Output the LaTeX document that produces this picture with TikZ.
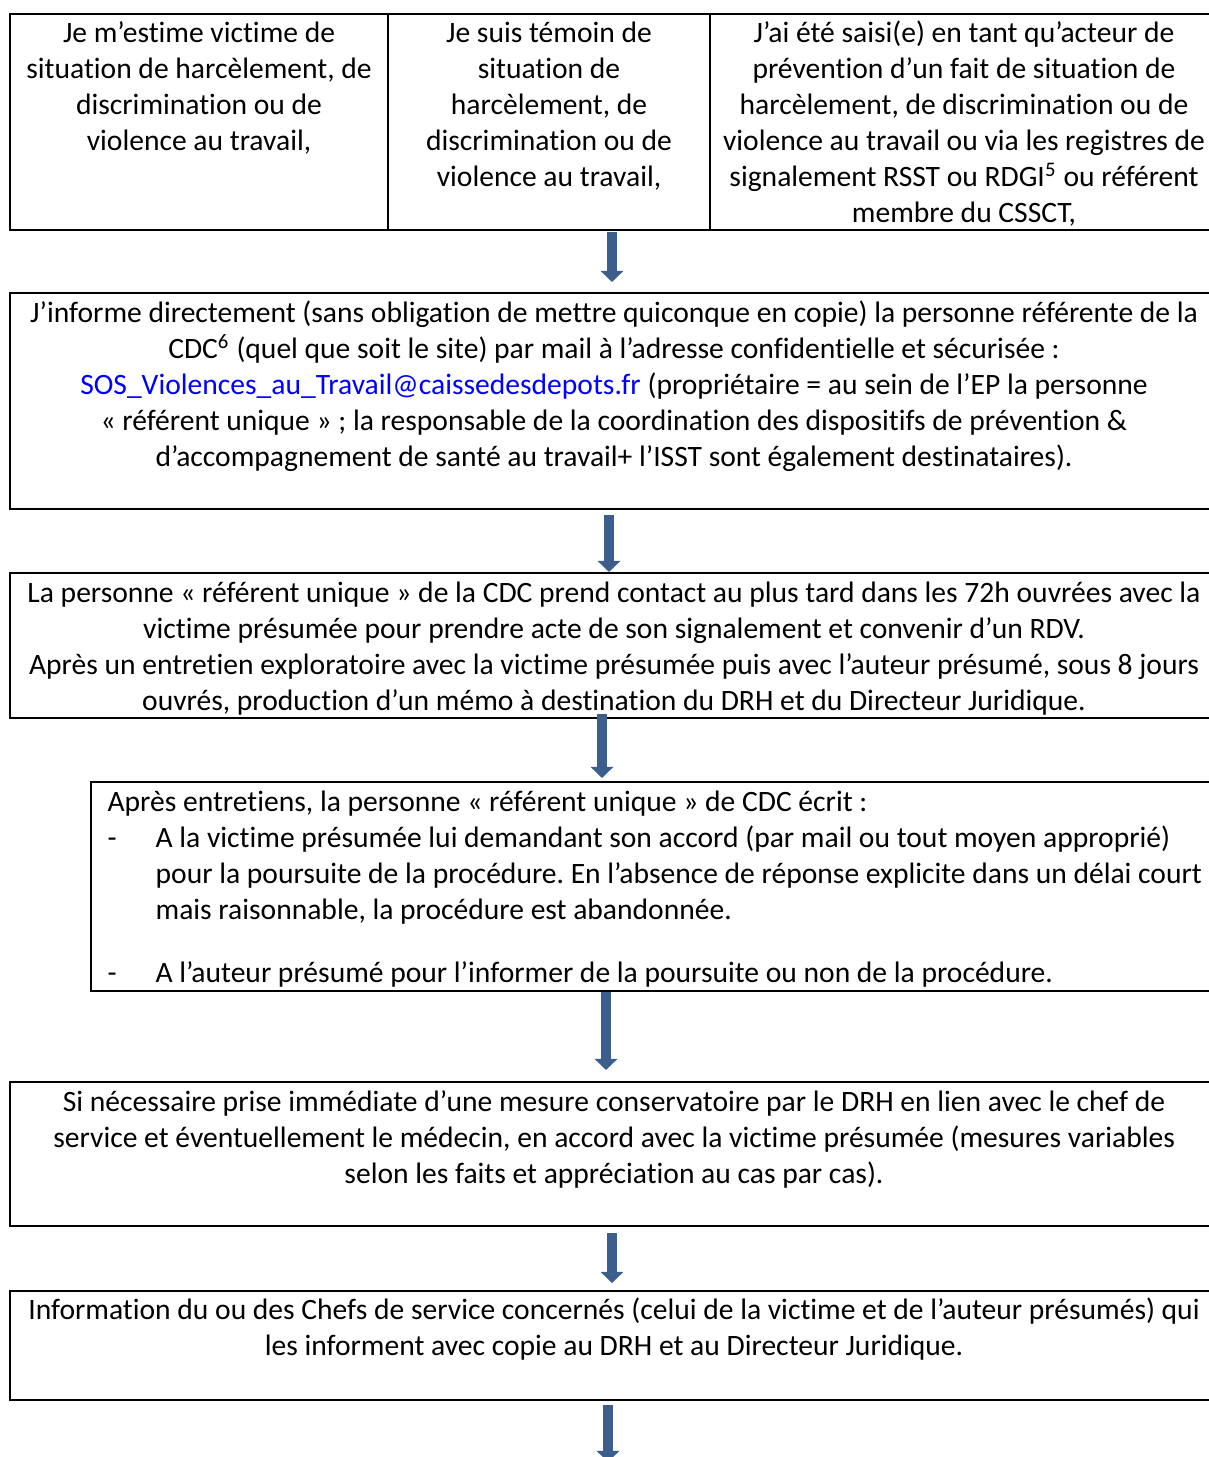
\documentclass[tikz,border=0pt]{standalone}
\usepackage{fontspec}
\setmainfont{Carlito}[Ligatures=NoCommon]
\usetikzlibrary{arrows.meta}
\definecolor{arrowblue}{RGB}{59,94,140}
\frenchspacing

\begin{document}
\begin{tikzpicture}[x=0.372pt,y=-0.372pt,
    box/.style={line width=1pt},
    txt/.style={anchor=north,inner sep=0pt,align=center,font=\fontsize{11}{13.4}\selectfont},
    flow/.style={draw=arrowblue,line width=3.7pt,-{Triangle[width=8.2pt,length=4.1pt]}}]
    \clip (0,0) rectangle (1209,1457);
    % boxes
    \draw[box] (10,14) rectangle (1218,230);
    \draw[box] (388,14) -- (388,230);
    \draw[box] (710,14) -- (710,230);
    \draw[box] (10,293) rectangle (1218,509);
    \draw[box] (10,573) rectangle (1218,718);
    \draw[box] (91,782) rectangle (1218,991);
    \draw[box] (10,1082) rectangle (1218,1226);
    \draw[box] (10,1291) rectangle (1218,1400);
    % texts
    \node[txt] (victime) at (199,17) {\strut Je m’estime victime de\\situation de harcèlement, de\\discrimination ou de\\violence au travail,};
    \node[txt] (temoin) at (549,17) {\strut Je suis témoin de\\situation de\\harcèlement, de\\discrimination ou de\\violence au travail,};
    \node[txt] (acteur) at (964,17) {\strut J’ai été saisi(e) en tant qu’acteur de\\prévention d’un fait de situation de\\harcèlement, de discrimination ou de\\violence au travail ou via les registres de\\signalement RSST ou RDGI\textsuperscript{5} ou référent\\membre du CSSCT,};
    \node[txt] (informe) at (614,297) {\strut J’informe directement (sans obligation de mettre quiconque en copie) la personne référente de la\\CDC\textsuperscript{6} (quel que soit le site) par mail à l’adresse confidentielle et sécurisée :\\{\color{blue}SOS\_Violences\_au\_Travail@caissedesdepots.fr} (propriétaire = au sein de l’EP la personne\\« référent unique » ; la responsable de la coordination des dispositifs de prévention \&\\d’accompagnement de santé au travail+ l’ISST sont également destinataires).};
    \node[txt] (contact) at (614,577) {\strut La personne « référent unique » de la CDC prend contact au plus tard dans les 72h ouvrées avec la\\victime présumée pour prendre acte de son signalement et convenir d’un RDV.\\Après un entretien exploratoire avec la victime présumée puis avec l’auteur présumé, sous 8 jours\\ouvrés, production d’un mémo à destination du DRH et du Directeur Juridique.};
    \node[txt,anchor=north west,align=left] (ecrit) at (107,786) {\strut Après entretiens, la personne « référent unique » de CDC écrit :\\\makebox[17.9pt][l]{-}A la victime présumée lui demandant son accord (par mail ou tout moyen approprié)\\\hspace*{17.9pt}pour la poursuite de la procédure. En l’absence de réponse explicite dans un délai court\\\hspace*{17.9pt}mais raisonnable, la procédure est abandonnée.\\[10pt]\makebox[17.9pt][l]{-}A l’auteur présumé pour l’informer de la poursuite ou non de la procédure.};
    \node[txt] (mesure) at (614,1086) {\strut Si nécessaire prise immédiate d’une mesure conservatoire par le DRH en lien avec le chef de\\service et éventuellement le médecin, en accord avec la victime présumée (mesures variables\\selon les faits et appréciation au cas par cas).};
    \node[txt] (chefs) at (614,1294) {\strut Information du ou des Chefs de service concernés (celui de la victime et de l’auteur présumés) qui\\les informent avec copie au DRH et au Directeur Juridique.};
    % arrows
    \coordinate (f1) at (612,232);  \coordinate (t1) at (612,282);
    \coordinate (f2) at (609,515);  \coordinate (t2) at (609,572);
    \coordinate (f3) at (602,714);  \coordinate (t3) at (602,778);
    \coordinate (f4) at (606,992);  \coordinate (t4) at (606,1070);
    \coordinate (f5) at (612,1233); \coordinate (t5) at (612,1283);
    \coordinate (f6) at (608,1405); \coordinate (t6) at (608,1462);
    \foreach \i in {1,...,6}
        \draw[flow] (f\i) -- (t\i);
\end{tikzpicture}
\end{document}
